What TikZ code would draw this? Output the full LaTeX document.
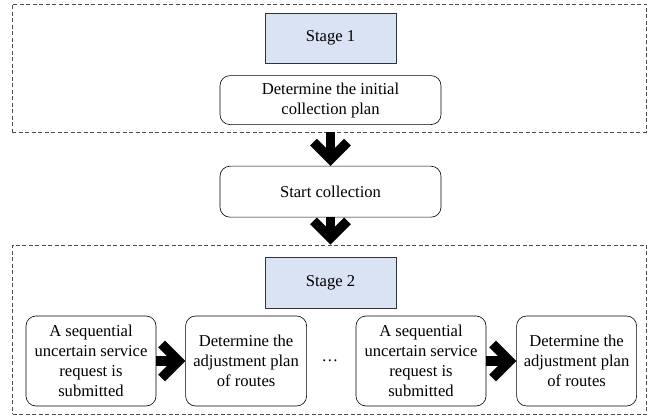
\documentclass[tikz,border=0pt]{standalone}
\usepackage{fontspec}
\setmainfont{Liberation Serif}
\usepackage{tikz}
\usetikzlibrary{positioning, arrows.meta}
\definecolor{stageblue}{HTML}{DAE3F3}

\begin{document}
\begin{tikzpicture}[x=1pt, y=1pt,
	font=\fontsize{16.6}{20}\selectfont,
	stagebox/.style={rectangle, draw=black!80, fill=stageblue, line width=0.6pt, minimum width=131pt, minimum height=50pt},
	stepbox/.style={rectangle, draw, rounded corners=10pt, line width=0.6pt, align=center, inner sep=2pt},
	phasebox/.style={rectangle, draw=black!70, dash pattern=on 4pt off 2.5pt, line width=0.7pt, minimum width=634pt},
	bigarrow/.style={line width=9.5pt, -{Straight Barb[length=17pt, width=34pt]}}]
			\useasboundingbox (0,0) rectangle (655,-419);
			
			\node[phasebox, minimum height=128pt] (phase1) at (329,-68) {};
			\node[stagebox] (s1) at (330.5,-38) {Stage 1};
			\node[stepbox, minimum width=221pt, minimum height=49pt, below = 12pt of s1] (init) {Determine the initial\\collection plan};
			\node[stepbox, minimum width=221pt, minimum height=51pt, below = 41pt of init] (start) {Start collection};
			
			\node[phasebox, minimum height=169pt] (phase2) at (329.5,-329.5) {};
			\node[stagebox, below = 40pt of start] (s2) {Stage 2};
			\node[stepbox, minimum width=130pt, minimum height=90pt] (req1) at (91,-361) {A sequential\\uncertain service\\request is\\submitted};
			\node[stepbox, minimum width=121pt, minimum height=90pt, right = 29pt of req1] (adj1) {Determine the\\adjustment plan\\of routes};
			\node (dots) at (330,-361) {\ldots};
			\node[stepbox, minimum width=130pt, minimum height=90pt] (req2) at (421,-361) {A sequential\\uncertain service\\request is\\submitted};
			\node[stepbox, minimum width=120pt, minimum height=90pt, right = 30pt of req2] (adj2) {Determine the\\adjustment plan\\of routes};
			
			\draw[bigarrow] (phase1.south -| start) -- (start.north);
			\draw[bigarrow] (start.south) -- (phase2.north -| start);
			\draw[bigarrow] (req1) -- (adj1);
			\draw[bigarrow] (req2) -- (adj2);
			
		\end{tikzpicture}
\end{document}
